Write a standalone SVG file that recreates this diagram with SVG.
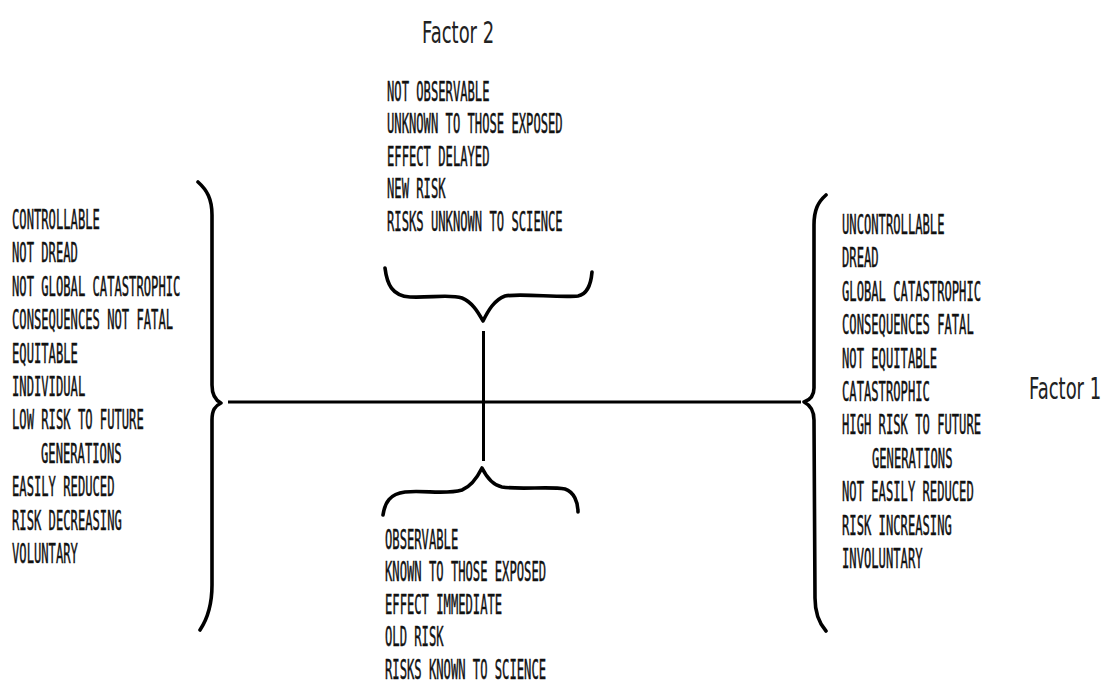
<svg xmlns="http://www.w3.org/2000/svg" width="1114" height="685" viewBox="0 0 1114 685">
<style>
.t text{font-family:"DejaVu Sans Mono","Liberation Mono",monospace;font-size:26px;font-weight:normal;fill:#111;stroke:#111;stroke-width:0.5}
.f{font-family:"DejaVu Sans","Liberation Sans",sans-serif;font-size:31px;fill:#222}
.br{fill:none;stroke:#000;stroke-width:3.6;stroke-linecap:round;stroke-linejoin:round}
.ax{fill:none;stroke:#000;stroke-width:3;stroke-linecap:butt}
</style>
<rect width="1114" height="685" fill="#fff"/>
<g id="connectors">
<line class="ax" x1="228" y1="402" x2="801" y2="402"/>
<line class="ax" x1="483.5" y1="331" x2="483.5" y2="461" stroke-width="2.6"/>
</g>
<g id="left-pole">
<path class="br" d="M198,182 C207,190 212,199 212,215 L212,385 C212,395 215,400 221,403 C215,406 212,410 212,420 L212,585 C212,604 208,618 200,630"/>
<g class="t" transform="translate(12 0) scale(0.468 1)">
<text x="0" y="229">CONTROLLABLE</text>
<text x="0" y="262.4">NOT DREAD</text>
<text x="0" y="295.8">NOT GLOBAL CATASTROPHIC</text>
<text x="0" y="329.2">CONSEQUENCES NOT FATAL</text>
<text x="0" y="362.6">EQUITABLE</text>
<text x="0" y="396">INDIVIDUAL</text>
<text x="0" y="429.4">LOW RISK TO FUTURE</text>
<text x="62" y="462.8">GENERATIONS</text>
<text x="0" y="496.2">EASILY REDUCED</text>
<text x="0" y="529.6">RISK DECREASING</text>
<text x="0" y="563">VOLUNTARY</text>
</g>
</g>
<g id="right-pole">
<path class="br" d="M826,195 C818,202 814,210 814,225 L814,388 C814,396 810,400 804,402 C810,405 814,410 814,420 L815,598 C815,612 818,622 826,631"/>
<g class="t" transform="translate(842 0) scale(0.468 1)">
<text x="0" y="234">UNCONTROLLABLE</text>
<text x="0" y="267.4">DREAD</text>
<text x="0" y="300.8">GLOBAL CATASTROPHIC</text>
<text x="0" y="334.2">CONSEQUENCES FATAL</text>
<text x="0" y="367.6">NOT EQUITABLE</text>
<text x="0" y="401">CATASTROPHIC</text>
<text x="0" y="434.4">HIGH RISK TO FUTURE</text>
<text x="64" y="467.8">GENERATIONS</text>
<text x="0" y="501.2">NOT EASILY REDUCED</text>
<text x="0" y="534.6">RISK INCREASING</text>
<text x="0" y="568">INVOLUNTARY</text>
</g>
</g>
<g id="top-pole">
<path class="br" d="M385,268 C387,284 392,296 410,297 C430,298 450,294 462,298 C472,302 478,312 483,321 C488,311 494,300 505,296 C520,293 560,298 578,296 C588,294 591,284 592,272" stroke-width="4.2"/>
<g class="t" transform="translate(387 0) scale(0.468 1)">
<text x="0" y="101">NOT OBSERVABLE</text>
<text x="0" y="133.5">UNKNOWN TO THOSE EXPOSED</text>
<text x="0" y="166">EFFECT DELAYED</text>
<text x="0" y="198.5">NEW RISK</text>
<text x="0" y="231">RISKS UNKNOWN TO SCIENCE</text>
</g>
</g>
<g id="bottom-pole">
<path class="br" d="M383,515 C385,502 390,494 405,492 C425,490 445,495 462,490 C472,486 478,476 482,468 C486,476 492,485 502,487 C520,490 550,486 565,489 C574,492 578,502 578,512" stroke-width="4.2"/>
<g class="t" transform="translate(385 0) scale(0.468 1)">
<text x="0" y="549">OBSERVABLE</text>
<text x="0" y="581.5">KNOWN TO THOSE EXPOSED</text>
<text x="0" y="614">EFFECT IMMEDIATE</text>
<text x="0" y="646.5">OLD RISK</text>
<text x="0" y="679">RISKS KNOWN TO SCIENCE</text>
</g>
</g>
<g id="factor2">
<text class="f" transform="translate(422 43) scale(0.58 1)" x="0" y="0">Factor 2</text>
</g>
<g id="factor1">
<text class="f" transform="translate(1029 399) scale(0.58 1)" x="0" y="0">Factor 1</text>
</g>
</svg>
